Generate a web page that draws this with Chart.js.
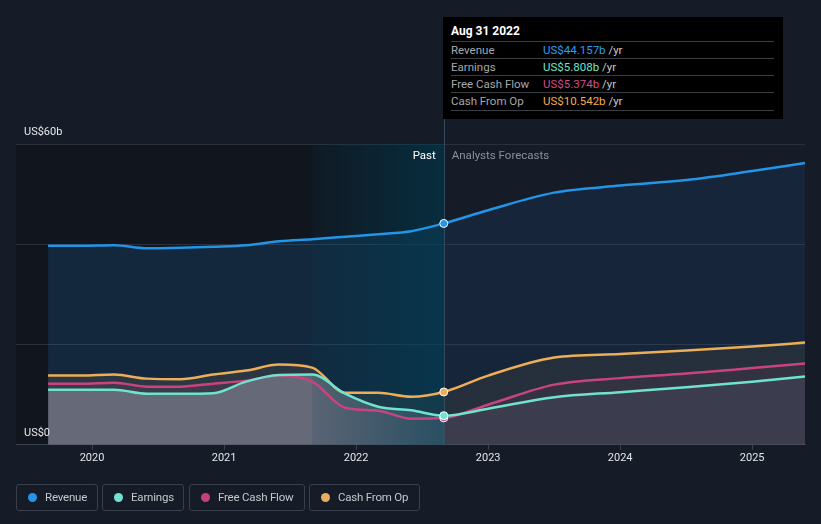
<!DOCTYPE html>
<html>
<head>
<meta charset="utf-8">
<script src="https://cdn.jsdelivr.net/npm/chart.js@4.4.0/dist/chart.umd.min.js"></script>
<style>
  html, body { margin: 0; padding: 0; background: #151b27; font-family: Roboto, "Noto Sans", sans-serif; }
  #wrap { position: relative; width: 821px; height: 524px; overflow: hidden; }
  #chart { position: absolute; left: 0; top: 0; }
  .tip { position: absolute; left: 443px; top: 17px; width: 340px; height: 102px; background: #000; }
  .tip .date { position: absolute; left: 8px; top: 7px; color: #fff; font-size: 12px; font-weight: bold; }
  .tip .row { position: absolute; left: 8px; width: 323px; height: 17px; border-top: 1px solid #3a3d42; font-size: 11.5px; line-height: 17px; color: #a4a8ae; }
  .tip .row .v { position: absolute; left: 92px; }
  .tip .row .u { color: #c8cacd; }
  .legend .item { position: absolute; top: 484px; height: 25px; border: 1px solid #3a404b; border-radius: 3px; box-sizing: border-box; height: 27px; padding-left: 28px; font-size: 11.5px; line-height: 25px; color: #c4c7cc; letter-spacing: -0.2px; white-space: nowrap; }
  .legend .item i { position: absolute; left: 11px; top: 8px; width: 9px; height: 9px; border-radius: 50%; }
</style>
</head>
<body>
<div id="wrap">
  <canvas id="chart" width="821" height="524"></canvas>
  <div class="tip">
    <div class="date">Aug 31 2022</div>
    <div class="row" style="top:24px">Revenue<span class="v"><span style="color:#2a9df4">US$44.157b</span> <span class="u">/yr</span></span></div>
    <div class="row" style="top:41px">Earnings<span class="v"><span style="color:#72e5cc">US$5.808b</span> <span class="u">/yr</span></span></div>
    <div class="row" style="top:58px">Free Cash Flow<span class="v"><span style="color:#d54a8a">US$5.374b</span> <span class="u">/yr</span></span></div>
    <div class="row" style="top:75px;border-bottom:1px solid #3a3d42">Cash From Op<span class="v"><span style="color:#f0ad4e">US$10.542b</span> <span class="u">/yr</span></span></div>
  </div>
  <div class="legend">
    <div class="item" style="left:16px;width:82px"><i style="background:#2394e6"></i>Revenue</div>
    <div class="item" style="left:102px;width:82px"><i style="background:#6fe3cf"></i>Earnings</div>
    <div class="item" style="left:189px;width:116px"><i style="background:#c4417f"></i>Free Cash Flow</div>
    <div class="item" style="left:309px;width:111px"><i style="background:#e9ad5f"></i>Cash From Op</div>
  </div>
</div>
<script>
// time in decimal years
const pastYears = [2019.667, 2019.917, 2020.167, 2020.417, 2020.667, 2020.917, 2021.167, 2021.417, 2021.667, 2021.917, 2022.167, 2022.417, 2022.664];
const forecastYears = [2023.0, 2023.5, 2024.0, 2024.5, 2025.0, 2025.4];
const yearTicks = [2020, 2021, 2022, 2023, 2024, 2025];
const valueTicks = [0, 20, 40, 60];
const nowYear = 2022.664;
const bandStart = 2021.667;

// US$ billions
const revenuePast = [39.7, 39.7, 39.8, 39.2, 39.3, 39.5, 39.8, 40.6, 41.0, 41.5, 42.0, 42.6, 44.157];
const revenueForecast = [46.8, 50.3, 51.7, 52.8, 54.6, 56.2];
const earningsPast = [11.0, 11.0, 11.0, 10.2, 10.2, 10.3, 12.6, 13.9, 14.0, 10.2, 7.6, 6.9, 5.808];
const earningsForecast = [7.2, 9.5, 10.5, 11.5, 12.6, 13.6];
const fcfPast = [12.2, 12.2, 12.4, 11.6, 11.6, 12.2, 12.8, 13.8, 12.6, 7.4, 6.8, 5.2, 5.374];
const fcfForecast = [8.0, 12.0, 13.3, 14.2, 15.3, 16.2];
const cfoPast = [13.8, 13.8, 14.0, 13.2, 13.1, 14.0, 14.8, 16.0, 15.4, 10.4, 10.4, 9.6, 10.542];
const cfoForecast = [13.8, 17.4, 18.1, 18.8, 19.6, 20.4];

const allYears = pastYears.concat(forecastYears);
const nowIndex = pastYears.length - 1;

function points(past, forecast) {
  return past.concat(forecast).map((v, i) => ({ x: allYears[i], y: v }));
}

// horizontal fill: one colour for the past, one for the forecast
function splitFill(pastColor, futureColor) {
  return function (c) {
    const chart = c.chart;
    const a = chart.chartArea;
    if (!a) return pastColor;
    const xNow = chart.scales.x.getPixelForValue(nowYear);
    const f = Math.min(1, Math.max(0, (xNow - a.left) / (a.right - a.left)));
    const g = chart.ctx.createLinearGradient(a.left, 0, a.right, 0);
    g.addColorStop(0, pastColor);
    g.addColorStop(f, pastColor);
    g.addColorStop(f, futureColor);
    g.addColorStop(1, futureColor);
    return g;
  };
}

function series(label, color, past, forecast, fillPast, fillFuture) {
  return {
    label: label,
    data: points(past, forecast),
    borderColor: color,
    borderWidth: 2.5,
    backgroundColor: splitFill(fillPast, fillFuture),
    fill: 'origin',
    cubicInterpolationMode: 'monotone',
    pointRadius: c => c.dataIndex === nowIndex ? 4 : 0,
    pointBackgroundColor: color,
    pointBorderColor: '#ffffff',
    pointBorderWidth: 1,
  };
}

const decor = {
  id: 'decor',
  beforeDraw(chart) {
    const { ctx, chartArea: a, scales: { x } } = chart;
    const xNow = x.getPixelForValue(nowYear);
    ctx.save();
    ctx.fillStyle = '#11151d';
    ctx.fillRect(a.left, a.top, xNow - a.left, a.bottom - a.top);
    ctx.restore();
  },
  beforeDatasetsDraw(chart) {
    const { ctx, chartArea: a, scales: { x } } = chart;
    const x0 = x.getPixelForValue(bandStart);
    const x1 = x.getPixelForValue(nowYear);
    ctx.save();
    const g = ctx.createLinearGradient(x0, 0, x1, 0);
    g.addColorStop(0, 'rgba(0,62,85,0.12)');
    g.addColorStop(1, 'rgba(0,62,85,0.6)');
    ctx.fillStyle = g;
    ctx.fillRect(x0, a.top, x1 - x0, a.bottom - a.top);
    ctx.strokeStyle = '#34495a';
    ctx.lineWidth = 1;
    ctx.beginPath();
    ctx.moveTo(Math.round(x1) + 0.5, 17);
    ctx.lineTo(Math.round(x1) + 0.5, a.bottom);
    ctx.stroke();
    ctx.restore();
  },
  afterDraw(chart) {
    const { ctx, chartArea: a, scales: { x, y } } = chart;
    const xNow = x.getPixelForValue(nowYear);
    ctx.save();
    ctx.font = '11px Roboto, sans-serif';
    ctx.textBaseline = 'middle';
    ctx.fillStyle = '#e6e8eb';
    ctx.textAlign = 'left';
    ctx.fillText('US$60b', 24, y.getPixelForValue(60) - 12);
    ctx.fillText('US$0', 24, y.getPixelForValue(0) - 12);
    ctx.font = '11.5px Roboto, sans-serif';
    ctx.textAlign = 'right';
    ctx.fillStyle = '#ffffff';
    ctx.fillText('Past', xNow - 8, a.top + 12);
    ctx.textAlign = 'left';
    ctx.fillStyle = '#8b9099';
    ctx.fillText('Analysts Forecasts', xNow + 8, a.top + 12);
    ctx.restore();
  }
};

new Chart(document.getElementById('chart'), {
  type: 'line',
  data: {
    datasets: [
      series('Revenue', '#2394e6', revenuePast, revenueForecast, 'rgba(33,150,243,0.15)', 'rgba(33,150,243,0.09)'),
      series('Earnings', '#6fe3cf', earningsPast, earningsForecast, 'rgba(220,212,212,0.32)', 'rgba(180,190,200,0.08)'),
      series('Free Cash Flow', '#c9447f', fcfPast, fcfForecast, 'rgba(200,70,120,0.12)', 'rgba(200,70,120,0.09)'),
      series('Cash From Op', '#eeae57', cfoPast, cfoForecast, 'rgba(240,170,80,0.12)', 'rgba(240,170,80,0.08)'),
    ]
  },
  options: {
    responsive: false,
    animation: false,
    layout: { padding: { left: 16, right: 16, top: 144, bottom: 57 } },
    plugins: {
      legend: { display: false },
      tooltip: { enabled: false },
      filler: { drawTime: 'beforeDatasetsDraw' },
    },
    scales: {
      x: {
        type: 'linear',
        min: 2019.424,
        max: 2025.40,
        afterBuildTicks: s => { s.ticks = yearTicks.map(v => ({ value: v })); },
        ticks: { color: '#e3e5e8', font: { size: 11, family: 'Roboto' }, padding: 2, callback: v => String(v) },
        grid: { drawOnChartArea: false, drawTicks: true, tickLength: 5, color: '#3a414c' },
        border: { color: '#3a414c' },
      },
      y: {
        min: 0,
        max: 60,
        afterBuildTicks: s => { s.ticks = valueTicks.map(v => ({ value: v })); },
        ticks: { display: false },
        grid: { color: '#2a313c', drawTicks: false },
        border: { display: false },
      }
    }
  },
  plugins: [decor]
});
</script>
</body>
</html>
